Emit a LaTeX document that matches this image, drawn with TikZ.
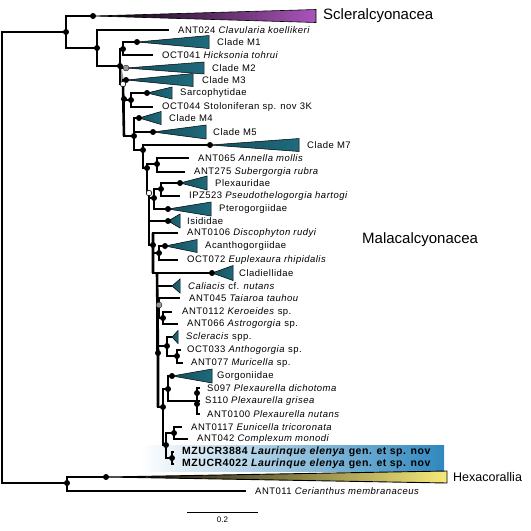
\documentclass[tikz,border=0pt]{standalone}
\usepackage{fontspec}
\setmainfont{Liberation Sans}
\newfontfamily\labfont[LetterSpace=5]{Liberation Sans}
\usepackage{tikz}
\usetikzlibrary{positioning}
\definecolor{cladeteal}{RGB}{30,106,124}
\definecolor{sclpurple}{RGB}{170,84,186}
\definecolor{hexyellow}{RGB}{246,233,122}
\definecolor{mzblue}{RGB}{48,136,190}
\definecolor{suppgrey}{RGB}{150,150,150}
\newcommand{\cladetri}[4][wedge]{%
  \shadedraw[#1] (#2) -- ++(#3,-#4) -- ++(0,2*#4) -- cycle;
  \path (#2) ++(#3,0) coordinate (#2-r);}
\tikzset{
  branch/.style={line width=1.3pt},
  spine/.style={line width=2.6pt},
  wedge/.style={left color=cladeteal!75!black,right color=cladeteal,draw=black,line width=0.5pt},
  sclwedge/.style={left color=black,right color=sclpurple,draw=black,line width=0.6pt},
  hexwedge/.style={left color=black,right color=hexyellow,draw=black,line width=0.9pt},
  leaf/.style={anchor=west,inner sep=0pt,font=\labfont\fontsize{9.5}{11}\selectfont},
  mzleaf/.style={leaf,font=\labfont\fontsize{10.5}{12}\selectfont\bfseries},
  bigleaf/.style={anchor=west,inner sep=0pt,font=\fontsize{15}{17}\selectfont},
  hexleaf/.style={anchor=west,inner sep=0pt,font=\fontsize{12.5}{14}\selectfont},
}

\begin{document}
\begin{tikzpicture}[x=1pt,y=-1pt]
  \useasboundingbox (0,0) rectangle (531,531);
  % highlight of the new species
  \shade[left color=white,right color=mzblue] (140,445) rectangle (444,471);

  % internal nodes and leaf ends
  \coordinate (rt) at (2,258);
  \coordinate (nA) at (66,32);
  \coordinate (nH) at (67,483);
  \coordinate (sT) at (93,16);
  \coordinate (hT) at (106,477);
  \coordinate (e011) at (246,491);
  \coordinate (nM) at (97,48);
  \coordinate (e024) at (169,30);
  \coordinate (n1) at (120,66);
  \coordinate (n2) at (123,49);
  \coordinate (m1) at (137,42);
  \coordinate (e041) at (153,55);
  \coordinate (m2) at (126,68);
  \coordinate (w1) at (123,84);
  \coordinate (m3) at (126,80);
  \coordinate (n4) at (124,99);
  \coordinate (ns) at (131,100);
  \coordinate (sar) at (147,93);
  \coordinate (e044) at (153,107);
  \coordinate (n5) at (134,136);
  \coordinate (m4) at (139,118);
  \coordinate (m5) at (153,132);
  \coordinate (n7) at (143,150);
  \coordinate (m7) at (210,145);
  \coordinate (n8) at (147,168);
  \coordinate (np) at (157,164);
  \coordinate (e065) at (189,158);
  \coordinate (e275) at (185,172);
  \coordinate (w2) at (149,193);
  \coordinate (n9) at (154,198);
  \coordinate (nx) at (161,189);
  \coordinate (plx) at (180,183);
  \coordinate (eipz) at (180,196);
  \coordinate (pte) at (168,209);
  \coordinate (isi) at (168,221);
  \coordinate (n10) at (153,245);
  \coordinate (e0106) at (178,233);
  \coordinate (nac) at (159,253);
  \coordinate (aca) at (165,246);
  \coordinate (e072) at (178,260);
  \coordinate (n11) at (157,273);
  \coordinate (cla) at (212,273);
  \coordinate (cal) at (172,286);
  \coordinate (g1) at (159,305);
  \coordinate (e045) at (180,298);
  \coordinate (n13) at (163,318);
  \coordinate (e0112) at (172,312);
  \coordinate (e066) at (178,324);
  \coordinate (n14) at (158,353);
  \coordinate (n15) at (167,346);
  \coordinate (scl) at (172,337);
  \coordinate (n15b) at (177,356);
  \coordinate (e033) at (181,350);
  \coordinate (e077) at (183,363);
  \coordinate (n16) at (163,407);
  \coordinate (n18) at (168,389);
  \coordinate (gor) at (172,376);
  \coordinate (n19) at (197,401);
  \coordinate (e097) at (200,388);
  \coordinate (e110) at (200,401);
  \coordinate (e0100) at (200,414);
  \coordinate (n20) at (166,445);
  \coordinate (n21) at (174,433);
  \coordinate (e0117) at (182,427);
  \coordinate (e042) at (188,439);
  \coordinate (n22) at (172,458);
  \coordinate (emz1) at (174,452);
  \coordinate (emz2) at (174,464);

  % thick backbone parts
  \draw[spine,suppgrey] (n1) -- (w1);
  \draw[spine] (w1) -- (124,136);
  \draw[spine] (153,233) -- (153,273) (n11) -- (n14) -- (158,407);

  % branches
  \draw[branch] (rt) |- (nA) (rt) |- (nH)
    (nA) |- (sT) (nA) |- (nM) (nH) |- (hT) (nH) |- (e011)
    (nM) |- (e024) (nM) |- (n1)
    (n1) |- (n2) (n1) |- (m2) (n1) |- (w1)
    (n2) |- (m1) (n2) |- (e041)
    (w1) |- (m3) (w1) |- (n4)
    (n4) |- (ns) (n4) |- (n5)
    (ns) |- (sar) (ns) |- (e044)
    (n5) |- (m4) (n5) |- (m5) (n5) |- (n7)
    (n7) |- (m7) (n7) |- (n8)
    (n8) |- (np) (n8) |- (w2)
    (np) |- (e065) (np) |- (e275)
    (w2) |- (n9) (w2) |- (isi) (w2) |- (n10)
    (n9) |- (nx) (n9) |- (pte)
    (nx) |- (plx) (nx) |- (eipz)
    (n10) |- (e0106) (n10) |- (nac) (n10) |- (n11)
    (nac) |- (aca) (nac) |- (e072)
    (n11) |- (cla) (n11) |- (cal) (n11) |- (g1) (n11) |- (n14)
    (g1) |- (e045) (g1) |- (n13)
    (n13) |- (e0112) (n13) |- (e066)
    (n14) |- (n15) (n14) |- (n16)
    (n15) |- (scl) (n15) |- (n15b)
    (n15b) |- (e033) (n15b) |- (e077)
    (n16) |- (n18) (n16) |- (n20)
    (n18) |- (gor) (n18) |- (n19)
    (n19) |- (e097) (n19) |- (e110) (n19) |- (e0100)
    (n20) |- (n21) (n20) |- (n22)
    (n21) |- (e0117) (n21) |- (e042)
    (n22) |- (emz1) (n22) |- (emz2);

  % collapsed clades
  \cladetri[sclwedge]{sT}{223}{6.5}
  \cladetri[hexwedge]{hT}{341}{6}
  \cladetri{m1}{72}{6.5}
  \cladetri{m2}{78}{6}
  \cladetri{m3}{67}{6.5}
  \cladetri{sar}{25}{6}
  \cladetri{m4}{22}{6.5}
  \cladetri{m5}{53}{7}
  \cladetri{m7}{89}{6.5}
  \cladetri{plx}{27}{7}
  \cladetri{pte}{43}{7}
  \cladetri{isi}{12}{7}
  \cladetri{aca}{32}{6.5}
  \cladetri{cla}{21}{7.5}
  \cladetri{cal}{8}{7}
  \cladetri{scl}{6}{6.5}
  \cladetri{gor}{40}{7}

  % support values
  \foreach \n in {nA,nH,sT,hT,nM,n1,n2,m1,m3,n4,ns,sar,n5,m4,m5,n7,m7,n8,np,
      n9,nx,plx,pte,isi,n10,nac,aca,cla,n13,n14,n15,n15b,n16,n18,gor,n20,n21,n22}
    \fill (\n) circle (3pt);
  \fill (197,393) circle (3pt) (197,404) circle (3pt);
  \foreach \n in {m2,g1}
    \filldraw[fill=suppgrey,line width=0.3pt] (\n) circle (3pt);
  \foreach \n in {w1,w2}
    \filldraw[fill=white,line width=0.6pt] (\n) circle (2.8pt);

  % labels
  \node[bigleaf,right=7pt of sT-r] (tScl) {Scleralcyonacea};
  \node[bigleaf] (tMal) at (362,240) {Malacalcyonacea};
  \node[hexleaf,right=6pt of hT-r] (tHex) {Hexacorallia};
  \node[leaf,right=9pt of e011] (t011) {ANT011 \textit{Cerianthus membranaceus}};
  \node[leaf,right=9pt of e024] (t024) {ANT024 \textit{Clavularia koellikeri}};
  \node[leaf,right=8pt of m1-r] (tM1) {Clade M1};
  \node[leaf,right=9pt of e041] (t041) {OCT041 \textit{Hicksonia tohrui}};
  \node[leaf,right=8pt of m2-r] (tM2) {Clade M2};
  \node[leaf,right=9pt of m3-r] (tM3) {Clade M3};
  \node[leaf,right=8pt of sar-r] (tSar) {Sarcophytidae};
  \node[leaf,right=9pt of e044] (t044) {OCT044 Stoloniferan sp. nov 3K};
  \node[leaf,right=8pt of m4-r] (tM4) {Clade M4};
  \node[leaf,right=7pt of m5-r] (tM5) {Clade M5};
  \node[leaf,right=8pt of m7-r] (tM7) {Clade M7};
  \node[leaf,right=9pt of e065] (t065) {ANT065 \textit{Annella mollis}};
  \node[leaf,right=9pt of e275] (t275) {ANT275 \textit{Subergorgia rubra}};
  \node[leaf,right=8pt of plx-r] (tPlx) {Plexauridae};
  \node[leaf,right=9pt of eipz] (tipz) {IPZ523 \textit{Pseudothelogorgia hartogi}};
  \node[leaf,right=8pt of pte-r] (tPte) {Pterogorgiidae};
  \node[leaf,right=7pt of isi-r] (tIsi) {Isididae};
  \node[leaf,right=9pt of e0106] (t0106) {ANT0106 \textit{Discophyton rudyi}};
  \node[leaf,right=8pt of aca-r] (tAca) {Acanthogorgiidae};
  \node[leaf,right=9pt of e072] (t072) {OCT072 \textit{Euplexaura rhipidalis}};
  \node[leaf,right=6pt of cla-r] (tCla) {Cladiellidae};
  \node[leaf,right=8pt of cal-r] (tCal) {\textit{Caliacis} cf. \textit{nutans}};
  \node[leaf,right=9pt of e045] (t045) {ANT045 \textit{Taiaroa tauhou}};
  \node[leaf,right=10pt of e0112] (t0112) {ANT0112 \textit{Keroeides} sp.};
  \node[leaf,right=9pt of e066] (t066) {ANT066 \textit{Astrogorgia} sp.};
  \node[leaf,right=8pt of scl-r] (tScl2) {\textit{Scleracis} spp.};
  \node[leaf,right=6pt of e033] (t033) {OCT033 \textit{Anthogorgia} sp.};
  \node[leaf,right=8pt of e077] (t077) {ANT077 \textit{Muricella} sp.};
  \node[leaf,right=5pt of gor-r] (tGor) {Gorgoniidae};
  \node[leaf,right=7pt of e097] (t097) {S097 \textit{Plexaurella dichotoma}};
  \node[leaf,right=5pt of e110] (t110) {S110 \textit{Plexaurella grisea}};
  \node[leaf,right=7pt of e0100] (t0100) {ANT0100 \textit{Plexaurella nutans}};
  \node[leaf,right=9pt of e0117] (t0117) {ANT0117 \textit{Eunicella tricoronata}};
  \node[leaf,right=9pt of e042] (t042) {ANT042 \textit{Complexum monodi}};
  \node[mzleaf,right=8pt of emz1] (tmz1) {MZUCR3884 \textit{Laurinque elenya} gen. et sp. nov};
  \node[mzleaf,right=8pt of emz2] (tmz2) {MZUCR4022 \textit{Laurinque elenya} gen. et sp. nov};

  % scale bar
  \coordinate (sb0) at (187,512);
  \coordinate (sb1) at (258,512);
  \draw[line width=0.8pt] (sb0) -- (sb1)
    node[midway,below=5pt,inner sep=0pt,font=\fontsize{8}{9}\selectfont] (tsb) {0.2};
\end{tikzpicture}
\end{document}
